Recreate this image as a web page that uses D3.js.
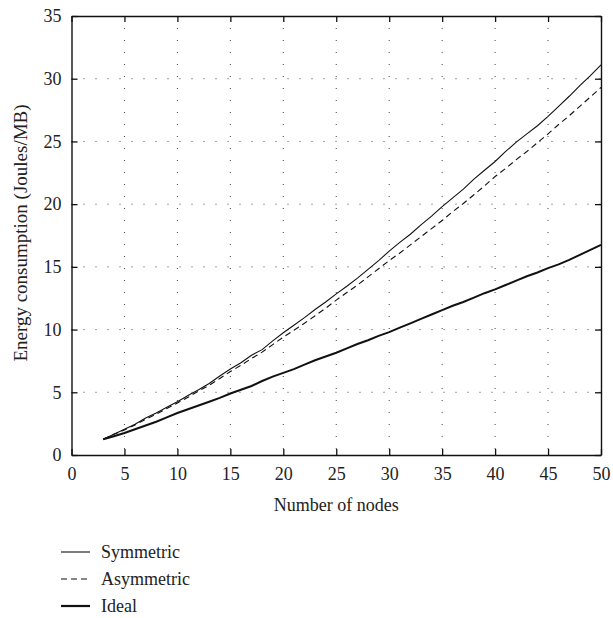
<!DOCTYPE html>
<html>
<head>
<meta charset="utf-8">
<script src="https://cdn.jsdelivr.net/npm/d3@7"></script>
<style>
  body { margin: 0; background: #fff; }
</style>
</head>
<body>
<div id="chart"></div>
<script>
// ----------------------------------------------- //
// Data
var nodes = d3.range(3, 51);

var symmetric = [1.25, 1.65, 2.05, 2.45, 2.95, 3.35, 3.8, 4.25, 4.75, 5.2,
    5.7, 6.3, 6.85, 7.35, 7.95, 8.4, 9.1, 9.75, 10.35, 10.95,
    11.6, 12.2, 12.85, 13.45, 14.1, 14.8, 15.5, 16.25, 16.95, 17.6,
    18.35, 19.05, 19.8, 20.5, 21.2, 22.0, 22.7, 23.4, 24.2, 24.95,
    25.6, 26.25, 27.0, 27.8, 28.6, 29.45, 30.25, 31.1];

var asymmetric = [1.25, 1.65, 2.0, 2.4, 2.85, 3.25, 3.7, 4.15, 4.6, 5.1,
    5.55, 6.1, 6.65, 7.15, 7.7, 8.2, 8.8, 9.4, 9.95, 10.5,
    11.1, 11.7, 12.35, 12.95, 13.55, 14.2, 14.85, 15.5, 16.1, 16.75,
    17.4, 18.05, 18.7, 19.4, 20.05, 20.75, 21.45, 22.2, 22.85, 23.55,
    24.2, 24.9, 25.6, 26.35, 27.05, 27.8, 28.55, 29.3];

var ideal = [1.25, 1.5, 1.75, 2.05, 2.35, 2.65, 3.0, 3.35, 3.65, 3.95,
    4.25, 4.55, 4.9, 5.2, 5.5, 5.9, 6.25, 6.55, 6.85, 7.2,
    7.55, 7.85, 8.15, 8.5, 8.85, 9.15, 9.5, 9.8, 10.15, 10.5,
    10.85, 11.2, 11.55, 11.9, 12.2, 12.55, 12.9, 13.2, 13.55, 13.9,
    14.25, 14.55, 14.9, 15.2, 15.55, 15.95, 16.35, 16.75];

var xTicks = [0, 5, 10, 15, 20, 25, 30, 35, 40, 45, 50];
var yTicks = [0, 5, 10, 15, 20, 25, 30, 35];

var seriesNames = ["Symmetric", "Asymmetric", "Ideal"];

// ----------------------------------------------- //
// Sizes
var svgWidth = 613;
var svgHeight = 618;

// literal style strings, single family name
function fontStyle(size) {
    return "font-family:'Liberation Serif';font-size:" + size + "px";
}

var margin = { top: 16, right: 12, bottom: 163, left: 71.5 };
var chartWidth = svgWidth - margin.left - margin.right;
var chartHeight = svgHeight - margin.top - margin.bottom;

var svg = d3.select("#chart")
    .append("svg")
    .attr("width", svgWidth)
    .attr("height", svgHeight);

var chartGroup = svg.append("g")
    .attr("transform", `translate(${margin.left}, ${margin.top})`);

// Scales
var xScale = d3.scaleLinear().domain([0, 50]).range([0, chartWidth]);
var yScale = d3.scaleLinear().domain([0, 35]).range([chartHeight, 0]);

// ----------------------------------------------- //
// Dotted grid
chartGroup.append("g")
    .selectAll("line")
    .data(xTicks.slice(1, -1))
    .enter()
    .append("line")
    .attr("x1", d => xScale(d))
    .attr("x2", d => xScale(d))
    .attr("y1", 0)
    .attr("y2", chartHeight)
    .attr("stroke", "#444")
    .attr("stroke-width", 1)
    .attr("stroke-dasharray", "1,11");

chartGroup.append("g")
    .selectAll("line")
    .data(yTicks.slice(1, -1))
    .enter()
    .append("line")
    .attr("x1", 0)
    .attr("x2", chartWidth)
    .attr("y1", d => yScale(d))
    .attr("y2", d => yScale(d))
    .attr("stroke", "#444")
    .attr("stroke-width", 1)
    .attr("stroke-dasharray", "1,11");

// ----------------------------------------------- //
// Axes, ticks pointing inward on all sides
var bottomAxis = d3.axisBottom(xScale).tickValues(xTicks).tickSizeInner(-6).tickSizeOuter(0).tickPadding(12);
var leftAxis = d3.axisLeft(yScale).tickValues(yTicks).tickSizeInner(-6).tickSizeOuter(0).tickPadding(10);
var topAxis = d3.axisTop(xScale).tickValues(xTicks).tickSizeInner(-6).tickSizeOuter(0).tickFormat("");
var rightAxis = d3.axisRight(yScale).tickValues(yTicks).tickSizeInner(-6).tickSizeOuter(0).tickFormat("");

function styleAxis(g) {
    g.attr("font-family", null).attr("font-size", null);
    g.selectAll("path").attr("stroke", "#111").attr("stroke-width", 1.4);
    g.selectAll("line").attr("stroke", "#111").attr("stroke-width", 1.3);
    g.selectAll("text")
        .attr("style", fontStyle(18))
        .attr("fill", "#222");
}

chartGroup.append("g")
    .attr("transform", `translate(0, ${chartHeight})`)
    .call(bottomAxis)
    .call(styleAxis);

chartGroup.append("g")
    .call(leftAxis)
    .call(styleAxis);

chartGroup.append("g")
    .call(topAxis)
    .call(styleAxis);

chartGroup.append("g")
    .attr("transform", `translate(${chartWidth}, 0)`)
    .call(rightAxis)
    .call(styleAxis);

// ----------------------------------------------- //
// Lines
var line = d3.line()
    .x((d, i) => xScale(nodes[i]))
    .y(d => yScale(d));

chartGroup.append("path")
    .datum(symmetric)
    .attr("d", line)
    .attr("fill", "none")
    .attr("stroke", "#111")
    .attr("stroke-width", 1.1);

chartGroup.append("path")
    .datum(asymmetric)
    .attr("d", line)
    .attr("fill", "none")
    .attr("stroke", "#111")
    .attr("stroke-width", 1.1)
    .attr("stroke-dasharray", "6,4");

chartGroup.append("path")
    .datum(ideal)
    .attr("d", line)
    .attr("fill", "none")
    .attr("stroke", "#111")
    .attr("stroke-width", 2);

// ----------------------------------------------- //
// Axis titles
svg.append("text")
    .attr("x", margin.left + chartWidth / 2)
    .attr("y", 511)
    .attr("text-anchor", "middle")
    .attr("style", fontStyle(18))
    .attr("fill", "#222")
    .text("Number of nodes");

svg.append("text")
    .attr("transform", "translate(27, 233) rotate(-90)")
    .attr("text-anchor", "middle")
    .attr("style", fontStyle(19))
    .attr("fill", "#222")
    .text("Energy consumption (Joules/MB)");

// ----------------------------------------------- //
// Legend
var legendStyles = [
    { dash: null, width: 1.1 },
    { dash: "6,4", width: 1.1 },
    { dash: null, width: 2.2 }
];

var legend = svg.append("g")
    .attr("transform", "translate(61, 552)");

seriesNames.forEach(function(name, i) {
    var row = legend.append("g").attr("transform", `translate(0, ${i * 27})`);
    row.append("line")
        .attr("x1", 0)
        .attr("x2", 29)
        .attr("y1", 0)
        .attr("y2", 0)
        .attr("stroke", "#111")
        .attr("stroke-width", legendStyles[i].width)
        .attr("stroke-dasharray", legendStyles[i].dash);
    row.append("text")
        .attr("x", 40)
        .attr("y", 6)
        .attr("style", fontStyle(18))
        .attr("fill", "#222")
        .text(name);
});
</script>
</body>
</html>
